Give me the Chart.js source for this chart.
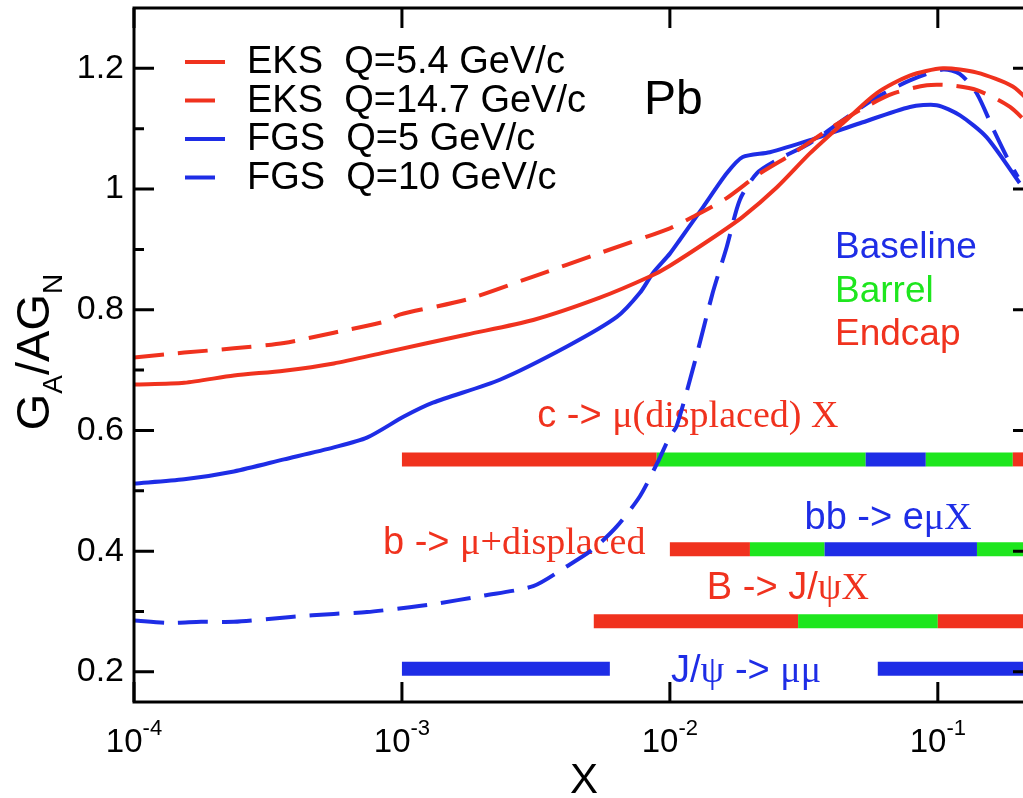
<!DOCTYPE html>
<html>
<head>
<meta charset="utf-8">
<script src="https://cdn.jsdelivr.net/npm/chart.js@4.4.1/dist/chart.umd.min.js"></script>
<style>
  html, body { margin: 0; padding: 0; background: #fff; overflow: hidden; }
  canvas { display: block; }
</style>
</head>
<body>
<canvas id="chart" width="1040" height="798"></canvas>
<script>
// G_A/AG_N gluon shadowing ratios for Pb, with detector x-coverage bars underneath

const RED = '#f0321e', BLUE = '#1e2de6', GREEN = '#1ee61e';
const SANS = '"Liberation Sans", Arial, sans-serif';
const SERIF = '"Liberation Serif", "Times New Roman", serif';

// curves (x, ratio)
const eks54X = [1e-4, 1.54e-4, 2.36e-4, 3.63e-4, 5.57e-4, 8.57e-4, 1.75e-3, 3.09e-3, 5.48e-3, 8.42e-3, 0.01,
                0.0141, 0.0187, 0.0251, 0.0333, 0.0442, 0.0592, 0.0786, 0.1045, 0.140, 0.1905, 0.226];
const eks54Y = [0.676, 0.679, 0.691, 0.699, 0.711, 0.729, 0.759, 0.783, 0.820, 0.855, 0.873,
                0.916, 0.954, 1.003, 1.059, 1.109, 1.159, 1.188, 1.200, 1.193, 1.170, 1.140];

const eks147X = [1e-4, 1.54e-4, 2.36e-4, 3.63e-4, 5.57e-4, 8.57e-4, 9.8e-4, 1.75e-3, 3.09e-3, 5.48e-3, 0.01,
                 0.0122, 0.0163, 0.0217, 0.0288, 0.0386, 0.0512, 0.0679, 0.091, 0.111, 0.140, 0.186, 0.226];
const eks147Y = [0.721, 0.729, 0.736, 0.745, 0.762, 0.780, 0.792, 0.817, 0.855, 0.894, 0.935,
                 0.954, 0.985, 1.026, 1.059, 1.097, 1.131, 1.158, 1.172, 1.172, 1.164, 1.136, 1.100];

const fgs5X = [1e-4, 1.54e-4, 2.36e-4, 3.63e-4, 5.57e-4, 7.4e-4, 1.017e-3, 1.305e-3, 2.32e-3, 4.13e-3, 6.34e-3,
               7.73e-3, 8.65e-3, 0.01, 0.0109, 0.0133, 0.0163, 0.0187, 0.0236, 0.0333, 0.0512, 0.0787, 0.099,
               0.121, 0.152, 0.202];
const fgs5Y = [0.512, 0.519, 0.532, 0.552, 0.572, 0.588, 0.623, 0.646, 0.684, 0.739, 0.788,
               0.828, 0.861, 0.893, 0.916, 0.970, 1.026, 1.053, 1.061, 1.081, 1.109, 1.136, 1.139,
               1.122, 1.086, 1.010];

const fgs10X = [1e-4, 1.37e-4, 1.78e-4, 2.36e-4, 3.85e-4, 5.57e-4, 7.4e-4, 1.07e-3, 1.305e-3, 2.0e-3, 3.09e-3,
                4.13e-3, 5.16e-3, 6.34e-3, 7.73e-3, 8.93e-3, 0.01, 0.0106, 0.0125, 0.01445, 0.0163, 0.01824,
                0.0211, 0.0251, 0.0333, 0.0442, 0.0592, 0.0787, 0.1045, 0.1207, 0.140, 0.160, 0.181, 0.199];
const fgs10Y = [0.285, 0.281, 0.283, 0.283, 0.291, 0.296, 0.299, 0.307, 0.312, 0.326, 0.342,
                0.375, 0.403, 0.441, 0.491, 0.544, 0.590, 0.607, 0.720, 0.828, 0.904, 0.982,
                1.026, 1.048, 1.076, 1.114, 1.152, 1.180, 1.198, 1.191, 1.158, 1.102, 1.053, 1.020];

// coverage bars: zone edges in x, and which detector covers each piece
const zoneColors = { base: BLUE, barrel: GREEN, endcap: RED };
const cMuEdges  = [0.001, 0.00893, 0.0538, 0.0902, 0.1905, 0.226];
const cMuZones  = ['endcap', 'barrel', 'base', 'barrel', 'endcap'];
const bbEdges   = [0.01, 0.0199, 0.0378, 0.140, 0.226];
const bbZones   = ['endcap', 'barrel', 'base', 'barrel'];
const bJpsiEdges = [0.0052, 0.0301, 0.1, 0.226];
const bJpsiZones = ['endcap', 'barrel', 'endcap'];
const jpsiEdges = [0.001, 0.00597, 0.0597, 0.226];
const jpsiZones = ['base', null, 'base'];
const barLevels = [0.552, 0.403, 0.284, 0.205];

const xTicks = [1e-4, 1e-3, 1e-2, 1e-1];
const yTicks = [0.2, 0.4, 0.6, 0.8, 1.0, 1.2];
const yMinor = [0.3, 0.5, 0.7, 0.9, 1.1];

function pts(xs, ys) { return xs.map((x, i) => ({ x, y: ys[i] })); }

function curve(label, xs, ys, color, dash) {
  return { label, data: pts(xs, ys), borderColor: color, borderWidth: 4, borderDash: dash,
           pointRadius: 0, tension: 0.25, fill: false, order: 0 };
}

function bar(edges, zones, level) {
  return {
    label: '', data: edges.map(x => ({ x, y: level })), borderWidth: 14, borderCapStyle: 'butt',
    pointRadius: 0, tension: 0, fill: false, order: 1, isBar: true,
    borderColor: zoneColors[zones[0]],
    segment: { borderColor: c => zones[c.p0DataIndex] ? zoneColors[zones[c.p0DataIndex]] : 'rgba(0,0,0,0)' }
  };
}

function drawRuns(ctx, runs, x, y, size, color) {
  ctx.save();
  ctx.fillStyle = color;
  ctx.textBaseline = 'alphabetic';
  ctx.textAlign = 'left';
  let cx = x;
  for (const [txt, fam] of runs) {
    ctx.font = `${size}px ${fam}`;
    ctx.fillText(txt, cx, y);
    cx += ctx.measureText(txt).width;
  }
  ctx.restore();
}

const annotations = [
  { x: 3.2e-3,  y: 0.605, color: RED,  runs: [['c -> ', SANS], ['\u03bc(displaced) X', SERIF]] },
  { x: 8.5e-4,  y: 0.395, color: RED,  runs: [['b -> ', SANS], ['\u03bc+displaced', SERIF]] },
  { x: 0.0318,  y: 0.436, color: BLUE, runs: [['bb -> e', SANS], ['\u03bcX', SERIF]] },
  { x: 0.01374, y: 0.321, color: RED,  runs: [['B -> J/', SANS], ['\u03c8X', SERIF]] },
  { x: 0.0101,  y: 0.183, color: BLUE, runs: [['J/', SANS], ['\u03c8', SERIF], [' -> ', SANS], ['\u03bc\u03bc', SERIF]] }
];

const frame = {
  id: 'frame',
  beforeDatasetsDraw(chart) {
    const { ctx, scales: { x, y } } = chart;
    for (const a of annotations) {
      drawRuns(ctx, a.runs, x.getPixelForValue(a.x), y.getPixelForValue(a.y), 38, a.color);
    }
  },
  afterDatasetsDraw(chart) {
    const { ctx, chartArea: ca, scales: { x, y } } = chart;
    ctx.save();
    ctx.strokeStyle = '#000';
    ctx.lineWidth = 3;
    ctx.strokeRect(ca.left, ca.top, ca.right - ca.left, ca.bottom - ca.top);
    ctx.beginPath();
    for (const v of yTicks) {
      const py = y.getPixelForValue(v);
      ctx.moveTo(ca.left, py); ctx.lineTo(ca.left + 20, py);
      ctx.moveTo(ca.right, py); ctx.lineTo(ca.right - 20, py);
    }
    for (const v of yMinor) {
      const py = y.getPixelForValue(v);
      ctx.moveTo(ca.left, py); ctx.lineTo(ca.left + 10, py);
      ctx.moveTo(ca.right, py); ctx.lineTo(ca.right - 10, py);
    }
    for (const v of xTicks) {
      const px = x.getPixelForValue(v);
      ctx.moveTo(px, ca.bottom); ctx.lineTo(px, ca.bottom - 20);
      ctx.moveTo(px, ca.top); ctx.lineTo(px, ca.top + 20);
    }
    ctx.stroke();

    // x tick labels 10^n
    ctx.fillStyle = '#000';
    ctx.textBaseline = 'alphabetic';
    ctx.textAlign = 'left';
    for (const v of xTicks) {
      const px = x.getPixelForValue(v);
      const exp = String(Math.round(Math.log10(v)));
      ctx.font = `33px ${SANS}`;
      const wb = ctx.measureText('10').width;
      ctx.font = `22px ${SANS}`;
      const we = ctx.measureText(exp).width;
      const left = px - (wb + we) / 2;
      ctx.font = `33px ${SANS}`;
      ctx.fillText('10', left, 752);
      ctx.font = `22px ${SANS}`;
      ctx.fillText(exp, left + wb, 735);
    }

    // axis titles
    ctx.font = `42px ${SANS}`;
    ctx.textAlign = 'center';
    ctx.fillText('X', ca.left + 450, 793);

    ctx.save();
    ctx.translate(49, 352);
    ctx.rotate(-Math.PI / 2);
    const parts = [['G', 47, 0], ['A', 28, 13], ['/AG', 47, 0], ['N', 28, 13]];
    let tw = 0;
    for (const [t, s] of parts) { ctx.font = `${s}px ${SANS}`; tw += ctx.measureText(t).width; }
    let cx = -tw / 2;
    ctx.textAlign = 'left';
    for (const [t, s, dy] of parts) {
      ctx.font = `${s}px ${SANS}`;
      ctx.fillText(t, cx, dy);
      cx += ctx.measureText(t).width;
    }
    ctx.restore();

    // "Pb" and detector key
    ctx.textAlign = 'left';
    ctx.font = `48px ${SANS}`;
    ctx.fillText('Pb', 644, 114);
    ctx.font = `37px ${SANS}`;
    ctx.fillStyle = BLUE;  ctx.fillText('Baseline', 835, 258);
    ctx.fillStyle = GREEN; ctx.fillText('Barrel', 835, 302);
    ctx.fillStyle = RED;   ctx.fillText('Endcap', 835, 345);

    // legend for the four curves
    const curves = chart.data.datasets.filter(d => !d.isBar);
    curves.forEach((d, i) => {
      const ly = 62 + i * 38.5;
      ctx.save();
      ctx.beginPath();
      ctx.rect(180, ly - 10, 45, 20);
      ctx.clip();
      ctx.strokeStyle = d.borderColor;
      ctx.lineWidth = 4;
      ctx.setLineDash(d.borderDash || []);
      ctx.beginPath();
      ctx.moveTo(185, ly); ctx.lineTo(225, ly);
      ctx.stroke();
      ctx.restore();
      ctx.fillStyle = '#000';
      ctx.font = `38px ${SANS}`;
      ctx.textBaseline = 'middle';
      ctx.fillText(d.label, 247, ly + 1);
      ctx.textBaseline = 'alphabetic';
    });
    ctx.restore();
  }
};

new Chart(document.getElementById('chart'), {
  type: 'line',
  data: {
    datasets: [
      curve('EKS  Q=5.4 GeV/c', eks54X, eks54Y, RED, []),
      curve('EKS  Q=14.7 GeV/c', eks147X, eks147Y, RED, [30, 14]),
      curve('FGS  Q=5 GeV/c', fgs5X, fgs5Y, BLUE, []),
      curve('FGS  Q=10 GeV/c', fgs10X, fgs10Y, BLUE, [30, 14]),
      bar(cMuEdges, cMuZones, barLevels[0]),
      bar(bbEdges, bbZones, barLevels[1]),
      bar(bJpsiEdges, bJpsiZones, barLevels[2]),
      bar(jpsiEdges, jpsiZones, barLevels[3])
    ]
  },
  options: {
    responsive: false, animation: false,
    layout: { padding: { top: 8, right: 7, left: 0, bottom: 0 } },
    plugins: { legend: { display: false }, tooltip: { enabled: false } },
    scales: {
      x: {
        type: 'logarithmic', min: 1e-4, max: 0.2266,
        grid: { display: false, drawTicks: false }, border: { display: false },
        ticks: { display: false },
        afterFit: s => { s.height = 96; s.paddingLeft = 0; s.paddingRight = 0; }
      },
      y: {
        type: 'linear', min: 0.15, max: 1.3,
        grid: { display: false, drawTicks: false }, border: { display: false },
        afterBuildTicks: s => { s.ticks = yTicks.map(v => ({ value: v })); },
        ticks: {
          color: '#000', padding: 10, font: { family: SANS, size: 34 },
          callback: v => String(Math.round(v * 10) / 10)
        },
        afterFit: s => { s.width = 134; s.paddingTop = 0; s.paddingBottom = 0; }
      }
    }
  },
  plugins: [frame]
});
</script>
</body>
</html>
